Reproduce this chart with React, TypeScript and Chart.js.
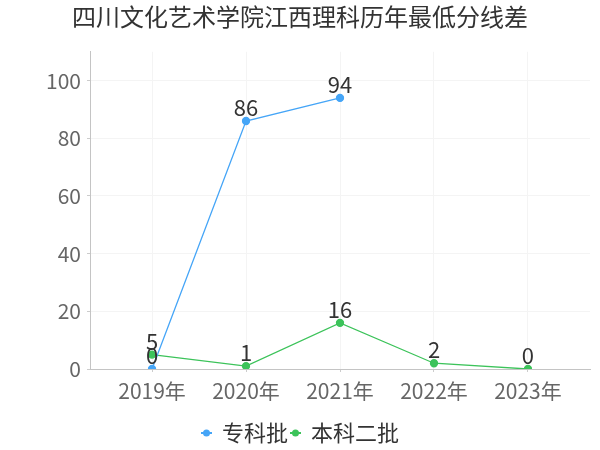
import React, { useEffect, useRef } from "react";
import { Chart, registerables } from "chart.js";

Chart.register(...registerables);

const title = "四川文化艺术学院江西理科历年最低分线差";
const categories = ["2019年", "2020年", "2021年", "2022年", "2023年"];
const zhuanke: (number | null)[] = [0, 86, 94, null, null];
const benke2: (number | null)[] = [5, 1, 16, 2, 0];
const seriesNames = ["专科批", "本科二批"];
const seriesColors = ["#45a5f7", "#3cc35a"];
const yTicks = [0, 20, 40, 60, 80, 100];

const FONT = "'Noto Sans CJK SC', 'Noto Sans', sans-serif";

const toPoints = (arr: (number | null)[]) =>
  arr.map((v, i) => ({ x: i, y: v }));

const dataLabels = {
  id: "dataLabels",
  afterDatasetsDraw(chart: any) {
    const ctx = chart.ctx;
    ctx.save();
    ctx.font = `22px ${FONT}`;
    ctx.fillStyle = "#333";
    ctx.textAlign = "center";
    ctx.textBaseline = "alphabetic";
    chart.data.datasets.forEach((ds: any, di: number) => {
      const meta = chart.getDatasetMeta(di);
      meta.data.forEach((pt: any, i: number) => {
        const v = ds.data[i].y;
        if (v === null || v === undefined) return;
        ctx.fillText(String(v), pt.x, pt.y - 5);
      });
    });
    ctx.restore();
  },
};

const customLegend = {
  id: "customLegend",
  afterDraw(chart: any) {
    const ctx = chart.ctx;
    ctx.save();
    ctx.font = `22px ${FONT}`;
    const markerW = 11;
    const gapText = 10;
    const gapItem = 2;
    const widths = seriesNames.map((n) => ctx.measureText(n).width);
    const total =
      widths.reduce((a, b) => a + b, 0) +
      seriesNames.length * (markerW + gapText) +
      (seriesNames.length - 1) * gapItem;
    let x = chart.width / 2 - total / 2;
    const cy = 433;
    seriesNames.forEach((name, i) => {
      ctx.strokeStyle = seriesColors[i];
      ctx.fillStyle = seriesColors[i];
      ctx.lineWidth = 2;
      ctx.beginPath();
      ctx.moveTo(x, cy);
      ctx.lineTo(x + markerW, cy);
      ctx.stroke();
      ctx.beginPath();
      ctx.arc(x + markerW / 2, cy, 3.5, 0, Math.PI * 2);
      ctx.fill();
      x += markerW + gapText;
      ctx.fillStyle = "#333";
      ctx.textAlign = "left";
      ctx.textBaseline = "middle";
      ctx.fillText(name, x, cy);
      x += widths[i] + gapItem;
    });
    ctx.restore();
  },
};

export default function App() {
  const ref = useRef<HTMLCanvasElement | null>(null);
  useEffect(() => {
    if (!ref.current) return;
    const chart = new Chart(ref.current, {
      type: "line",
      data: {
        datasets: [
          {
            label: seriesNames[0],
            data: toPoints(zhuanke),
            borderColor: seriesColors[0],
            backgroundColor: seriesColors[0],
            borderWidth: 1.3,
            pointRadius: 3.5,
            spanGaps: false,
          },
          {
            label: seriesNames[1],
            data: toPoints(benke2),
            borderColor: seriesColors[1],
            backgroundColor: seriesColors[1],
            borderWidth: 1.3,
            pointRadius: 3.5,
          },
        ],
      },
      options: {
        animation: false,
        responsive: false,
        layout: { padding: { left: 10, right: 10, top: 0, bottom: 49 } },
        plugins: {
          title: {
            display: true,
            text: title,
            color: "#333",
            font: { family: FONT, size: 24, weight: "normal" },
            padding: { top: 2, bottom: 21 },
          },
          legend: { display: false },
          tooltip: { enabled: false },
        },
        scales: {
          x: {
            type: "linear",
            min: -0.66,
            max: 4.66,
            afterBuildTicks: (axis: any) => {
              axis.ticks = categories.map((_, i) => ({ value: i }));
            },
            afterFit: (axis: any) => {
              axis.height = 32;
            },
            ticks: {
              callback: (v: any) => categories[v] ?? "",
              color: "#666",
              font: { family: FONT, size: 21 },
              autoSkip: false,
              maxRotation: 0,
              padding: 6,
            },
            grid: { color: "#f4f4f4", tickColor: "#ccc", tickLength: 3 },
            border: { color: "#c4c4c4" },
          },
          y: {
            min: 0,
            max: 110,
            afterBuildTicks: (axis: any) => {
              axis.ticks = yTicks.map((v) => ({ value: v }));
            },
            afterFit: (axis: any) => {
              axis.width = 80;
            },
            ticks: {
              color: "#666",
              font: { family: FONT, size: 21 },
              padding: 6,
            },
            grid: { color: "#f4f4f4", tickColor: "#ccc", tickLength: 3 },
            border: { color: "#c4c4c4" },
          },
        },
      },
      plugins: [dataLabels, customLegend],
    });
    return () => chart.destroy();
  }, []);
  return (
    <div style={{ position: "fixed", left: 0, top: 0, width: 600, height: 450, background: "#fff" }}>
      <canvas ref={ref} width={600} height={450} />
    </div>
  );
}
